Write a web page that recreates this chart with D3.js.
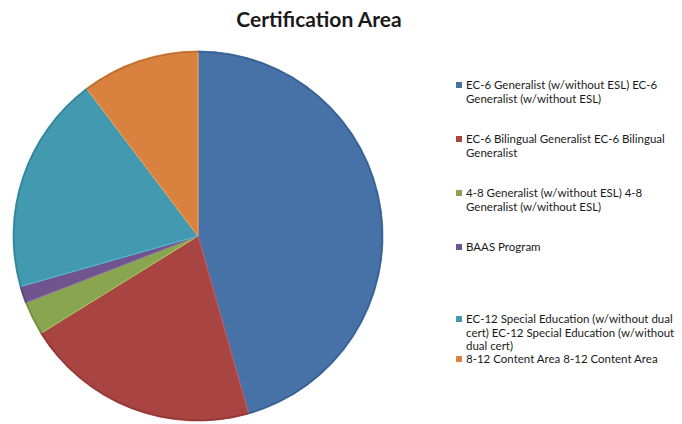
<!DOCTYPE html>
<html>

<head>
    <meta charset="utf-8">
    <title>Certification Area</title>
    <script src="https://d3js.org/d3.v7.min.js"></script>
    <style>
        body { margin: 0; background: #fff; }
        text { font-family: Lato, "Liberation Sans", sans-serif; fill: #1a1a1a; }
    </style>
</head>

<body>
    <svg width="682" height="424"></svg>
    <script>
        // data (counts, 68 in total)
        const categories = [
            "EC-6 Generalist (w/without ESL) EC-6 Generalist (w/without ESL)",
            "EC-6 Bilingual Generalist EC-6 Bilingual Generalist",
            "4-8 Generalist (w/without ESL) 4-8 Generalist (w/without ESL)",
            "BAAS Program",
            "EC-12 Special Education (w/without dual cert) EC-12 Special Education (w/without dual cert)",
            "8-12 Content Area 8-12 Content Area"
        ]
        const counts = [31, 14, 2, 1, 13, 7]
        const colors = ["#4672a8", "#a84442", "#8aa54f", "#6f548d", "#4399b0", "#d9813e"]

        const svg = d3.select("svg")
        const cx = 198, cy = 236, r = 185

        svg.append("text")
            .attr("x", 319)
            .attr("y", 27)
            .attr("text-anchor", "middle")
            .style("font-size", "21px")
            .style("font-weight", "bold")
            .text("Certification Area")

        const data = categories.map((c, i) => ({ name: c, value: counts[i], color: colors[i] }))

        const pie = d3.pie().sort(null).value(d => d.value)
        const arcs = pie(data)
        const arc = d3.arc().innerRadius(0).outerRadius(r)
        const rim = d3.arc().innerRadius(r - 1.5).outerRadius(r)

        const g = svg.append("g").attr("transform", `translate(${cx},${cy})`)

        g.selectAll("path.slice")
            .data(arcs)
            .join("path")
            .attr("class", "slice")
            .attr("d", arc)
            .attr("fill", d => d.data.color)
            .attr("stroke", d => d3.color(d.data.color).brighter(0.6))
            .attr("stroke-width", 1)

        g.selectAll("path.rim")
            .data(arcs)
            .join("path")
            .attr("class", "rim")
            .attr("d", rim)
            .attr("fill", d => d3.color(d.data.color).darker(0.5))

        // legend
        const legendY = [85, 139, 193, 247, 319, 359]
        const lineH = 13.5
        const maxW = 224
        const legend = svg.append("g")

        data.forEach((d, i) => {
            const y = legendY[i]
            legend.append("rect")
                .attr("x", 456)
                .attr("y", y - 3)
                .attr("width", 6)
                .attr("height", 6)
                .attr("fill", d.color)

            const t = legend.append("text")
                .attr("x", 466)
                .attr("y", y + 4)
                .style("font-size", "11.5px")

            // wrap the label the way the legend box does
            const words = d.name.split(" ")
            let line = []
            let ts = t.append("tspan").attr("x", 466).attr("dy", 0)
            words.forEach(w => {
                line.push(w)
                ts.text(line.join(" "))
                if (ts.node().getComputedTextLength() > maxW && line.length > 1) {
                    line.pop()
                    ts.text(line.join(" "))
                    line = [w]
                    ts = t.append("tspan").attr("x", 466).attr("dy", lineH).text(w)
                }
            })
        })
    </script>
</body>

</html>
